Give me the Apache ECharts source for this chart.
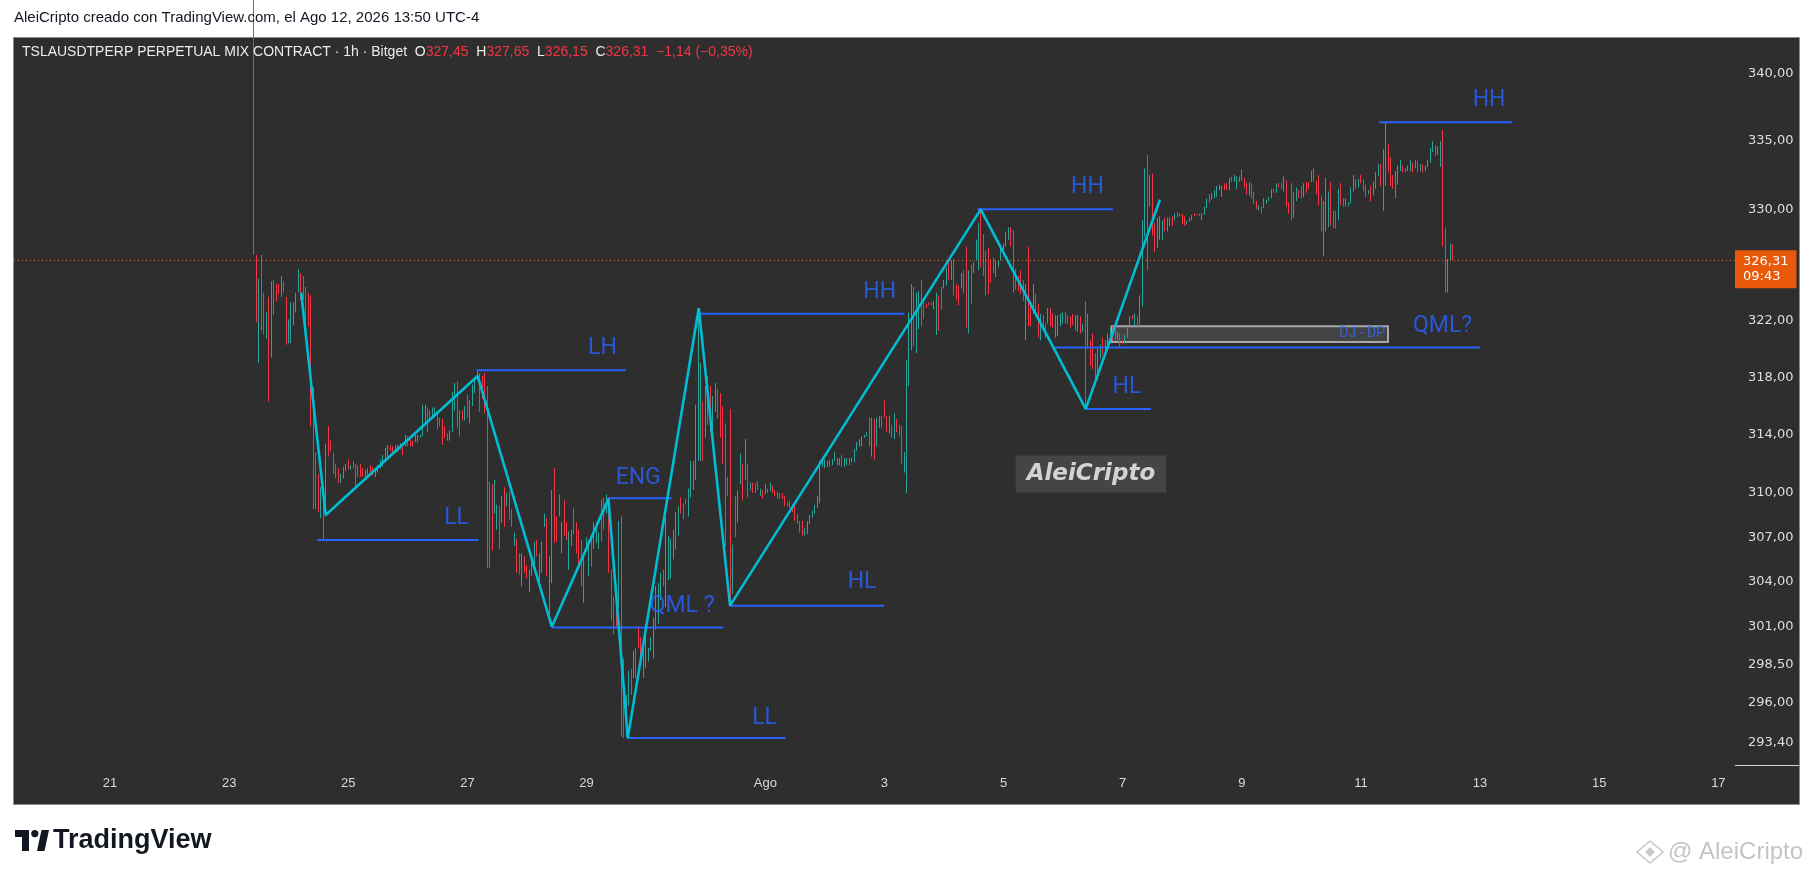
<!DOCTYPE html>
<html><head><meta charset="utf-8">
<script src="https://cdn.jsdelivr.net/npm/echarts@6/dist/echarts.min.js"></script>
<style>html,body{margin:0;padding:0;background:#fff;}#c{width:1814px;height:877px;}</style>
</head><body><div id="c"></div>
<script>
// hours counted from 21 Jul 00:00 (UTC-4); hourly candles start at this hour
const startHour = 58;
const opens = [
348,326.7,319.0,326.7,324.0,320.7,323.7,319.4,324.9,324.6,
324.6,323.7,324.8,323.7,320.4,320.4,321.7,322.6,324.0,325.4,
325.2,324.4,324.0,323.8,317.3,312.8,311.3,308.3,310.2,308.4,
314.6,313.6,312.8,312.0,311.7,310.7,311.0,311.5,312.3,311.6,
312.2,312.0,311.9,312.0,311.7,311.1,311.2,311.9,311.8,311.1,
311.4,311.7,311.8,312.2,312.4,313.3,313.2,313.3,312.8,313.0,
313.2,313.2,313.9,313.8,313.6,313.5,313.5,313.8,313.9,314.8,
315.9,315.7,315.1,315.2,315.5,315.2,315.1,314.6,314.1,313.6,
314.2,315.7,317.7,315.7,315.7,315.0,316.8,314.8,316.0,316.9,
317.8,
318.3,318.1,318.3,317.4,310.8,310.6,308.6,307.5,309.1,308.0,
310.4,309.1,310.1,308.9,306.4,306.9,305.9,303.7,305.7,305.1,
303.3,304.4,304.8,306.8,303.9,304.6,307.7,308.3,301.2,303.9,
311.7,308.4,308.4,305.9,309.5,308.0,304.8,306.4,309.0,308.0,
307.5,306.8,302.6,306.2,304.4,306.8,306.2,306.6,306.2,309.6,
309.7,308.6,309.7,304.8,303.0,303.5,302.3,308.4,298.9,293.8,
295.8,298.2,297.6,299.6,301.0,300.3,297.6,298.3,298.7,299.4,
298.9,300.8,301.2,302.8,304.8,302.3,304.1,304.2,305.5,306.2,
307.1,309.7,309.3,309.6,308.4,309.7,310.2,310.9,312.2,312.2,
316.3,313.8,318.1,317.4,313.8,315.6,317.2,316.9,316.0,314.8,
311.1,315.8,303.2,309.8,308.0,310.6,312.0,310.9,312.0,310.2,
310.7,310.7,310.8,
309.8,310.2,309.9,310.3,310.1,310.5,310.2,310.1,310.0,310.0,
309.8,309.4,309.5,309.2,309.3,308.6,308.1,308.1,307.1,307.2,
307.9,308.3,308.6,309.0,309.3,311.8,311.7,311.8,312.3,311.9,
312.2,311.9,311.9,312.6,311.8,311.9,312.4,312.1,312.1,312.9,
313.2,313.2,313.8,313.9,315.2,312.5,315.1,313.2,314.5,315.3,
316.4,315.3,314.1,314.7,313.7,315.1,314.7,314.6,311.4,310.0,
317.4,319.9,324.4,319.7,321.4,324.9,323.3,323.2,323.3,323.3,
322.8,321.0,323.8,324.4,324.3,324.5,326.4,324.9,326.4,324.6,
324.5,324.3,325.6,327.3,321.1,326.0,325.4,326.3,325.6,330.1,
328.2,327.0,327.2,326.4,326.5,325.1,325.8,326.3,326.9,327.3,
327.8,
328.7,328.5,325.7,325.2,325.6,324.9,320.6,327.3,323.4,322.5,
323.9,323.2,320.6,322.4,321.8,321.8,322.9,322.5,320.8,320.9,
321.6,321.8,322.6,322.4,322.3,322.5,321.3,321.2,322.3,321.2,
323.4,320.0,320.6,321.1,319.7,317.8,319.3,320.8,319.9,320.2,
320.4,321.6,321.5,320.6,321.1,320.6,320.4,320.8,321.6,322.4,
321.6,322.3,321.5,323.0,328.0,334.0,330.2,332.6,329.0,327.2,
327.8,327.8,329.4,328.4,328.8,329.5,329.2,329.8,329.5,329.7,
329.5,328.9,329.1,329.2,329.7,329.7,329.7,329.2,329.6,330.1,
331.1,330.7,330.8,330.9,331.4,
330.9,331.9,331.9,331.4,332.4,332.0,331.5,332.0,332.1,332.3,
331.9,331.0,331.9,331.3,330.6,329.9,330.2,330.1,330.4,330.6,
330.8,331.5,331.2,331.9,331.9,331.3,332.1,330.5,331.9,329.4,
330.6,331.4,331.7,330.9,332.0,332.0,332.0,333.0,332.1,332.5,
331.0,326.6,328.4,328.7,332.0,329.9,329.9,329.2,331.9,330.8,
330.2,330.2,330.4,331.3,332.2,331.6,332.5,332.2,331.8,331.1,
331.7,331.0,331.5,332.4,333.3,329.9,331.7,334.8,333.8,332.5,
330.8,331.8,332.8,333.2,333.0,332.8,332.8,333.4,333.0,333.5,
332.8,333.3,332.8,333.1,333.4,334.2,334.7,334.0,333.1,335.8,
328.7,324.0,326.3,327.45
];
const closes = [
326.7,321.9,325.0,321.3,321.0,322.6,316.3,324.8,322.4,323.4,
323.9,325.2,324.0,320.3,322.1,323.3,323.3,324.0,325.7,323.5,
323.5,321.6,321.6,314.6,308.9,308.9,308.7,310.4,306.8,313.4,
312.5,312.9,311.3,311.0,310.7,311.3,311.8,312.0,311.6,311.9,
311.7,310.5,311.1,311.1,311.1,311.6,311.7,311.3,311.2,311.7,
311.9,312.3,312.6,313.1,313.3,312.9,312.8,312.8,313.3,313.4,
312.6,314.0,313.2,313.2,313.2,314.0,314.0,314.0,316.1,316.1,
314.2,314.9,315.9,315.9,314.4,314.6,313.3,313.8,313.6,314.3,
317.0,317.6,314.5,313.9,315.0,316.0,315.2,316.4,317.5,317.9,
318.5,
315.6,316.5,315.5,304.9,304.9,306.1,310.9,309.2,306.2,309.8,
307.7,310.0,308.2,307.7,307.3,304.6,304.5,305.9,304.6,304.2,
304.8,305.3,306.7,305.7,305.9,306.7,308.6,304.4,305.7,310.2,
306.6,306.7,309.9,308.0,307.1,306.8,307.4,307.5,307.2,305.9,
304.8,303.7,305.7,307.0,306.8,305.0,308.0,308.0,307.3,306.7,
307.5,309.9,304.6,301.4,300.5,301.0,308.1,293.8,293.7,296.5,
298.1,296.5,299.4,297.6,299.6,298.8,300.1,301.2,299.6,300.3,
301.6,303.7,303.9,304.6,303.7,308.4,307.1,306.9,307.5,308.7,
309.1,308.6,308.2,309.2,310.3,312.2,312.2,316.1,322.9,319.0,
312.2,317.4,314.7,314.2,316.7,317.6,315.1,313.8,312.0,306.4,
309.8,302.4,306.5,307.0,310.2,312.7,309.5,313.7,309.7,310.7,
310.0,310.0,310.2,
310.3,309.6,310.6,310.0,310.7,310.0,309.8,309.6,309.6,309.6,
309.1,309.1,309.0,308.7,308.1,307.9,307.3,307.1,307.6,308.1,
308.5,308.8,309.2,309.8,312.2,312.3,312.3,312.2,311.8,312.3,
312.8,312.4,312.4,311.8,312.4,312.4,311.9,312.4,313.0,313.5,
313.7,313.9,314.0,314.2,313.2,315.2,312.3,315.2,315.3,314.5,
315.2,314.2,315.3,313.8,315.5,314.2,313.9,312.0,312.8,319.2,
322.6,324.6,320.2,324.0,324.1,321.6,322.1,322.9,323.1,323.1,
323.4,324.0,321.3,322.8,324.9,325.8,324.9,326.3,323.8,323.5,
323.1,325.4,324.0,321.5,325.6,323.2,326.2,327.8,329.0,325.8,
325.2,323.8,323.9,324.7,325.4,326.3,326.3,327.2,327.5,328.4,
328.7,
327.3,324.0,324.2,324.1,323.9,323.4,324.6,321.6,321.6,324.6,
322.5,320.8,322.5,321.3,320.8,322.9,321.6,321.5,322.4,322.4,
322.5,322.6,321.8,321.8,321.5,321.7,322.4,322.4,321.1,321.8,
315.8,322.5,318.8,318.6,317.6,320.1,320.3,319.6,320.6,321.1,
321.5,320.6,320.6,321.2,320.1,320.3,321.0,321.6,322.3,322.1,
322.5,321.5,323.8,329.2,333.0,325.6,332.5,328.1,326.9,329.4,
329.5,329.2,328.4,329.4,329.4,328.8,329.7,329.4,329.7,328.9,
328.8,329.2,329.4,329.6,329.5,329.6,329.5,329.7,330.2,330.8,
330.5,331.2,331.4,331.7,331.8,
331.7,331.4,331.4,332.3,332.0,332.5,332.4,332.4,332.9,331.6,
331.1,332.0,330.8,330.4,330.0,330.3,329.7,330.8,330.7,330.9,
331.5,331.2,331.9,331.6,331.5,332.4,330.2,329.7,329.2,331.3,
331.6,330.8,330.8,331.9,331.2,331.5,332.8,332.0,331.1,330.3,
328.4,330.6,332.3,331.3,328.8,328.6,328.6,331.5,330.3,330.2,
330.8,330.5,331.6,332.5,331.5,332.2,331.9,331.3,330.9,331.4,
330.6,332.0,332.7,333.3,331.7,334.4,336.4,332.7,331.7,331.5,
332.8,333.2,333.6,332.7,332.7,333.2,333.6,332.7,333.6,332.7,
333.3,332.7,333.2,333.6,334.5,335.0,333.9,334.6,335.0,327.3,
324.0,326.4,327.5,326.31
];
const lastPrice = 326.31;
const countdown = '09:43';
const dayTicks = [0,2,4,6,8,11,13,15,17,19,21,23,25,27];
const dayLabels = ['21','23','25','27','29','Ago','3','5','7','9','11','13','15','17'];
const priceTicks = [340,335,330,322,318,314,310,307,304,301,298.5,296,293.4];
const zigHours = [77.0,86.9,148.1,178.0,200.8,208.6,237.2,249.8,350.8,393.1,423.0];
const zigPrices = [324.0,308.5,318.1,301.0,309.6,293.7,322.9,302.4,330.0,315.8,330.7];
const levelStart = [83.5,147.7,178.0,200.8,208.3,249.4,237.2,349.4,380.7,392.8,511.4];
const levelEnd = [148.4,207.9,247.1,226.3,272.2,311.8,320.0,404.0,552.0,419.3,565.0];
const levelPrice = [306.8,318.5,300.95,309.65,293.7,302.4,322.5,330.0,320.1,315.8,336.4];
const labelTexts = ['LL','LH','ENG','QML ?','LL','HL','HH','HH','HL','QML?','HH'];
const labelHours = [139.6,198.4,212.8,230.5,263.7,303.0,310.1,393.8,409.7,536.9,555.6];
const labelPrices = [308.25,320.05,311.0,302.35,295.0,303.96,323.99,331.6,317.3,321.6,338.0];
const boxHours = [403.5,514.9];
const boxPrices = [321.6,320.5];
const boxText = 'DJ - DP';
const boxTextAt = [513.7,321.1];
const signText = 'AleiCripto';
const signAt = [395.2,311.3];

const ln = Math.log;
const candleData = opens.map((o,i)=>{const c=closes[i];return [startHour+i, ln(o), ln(c), ln(Math.min(o,c)), ln(Math.max(o,c))];});
const fmtPrice = v => Math.exp(v).toFixed(2).replace('.', ',');
const clear = 'rgba(0,0,0,0)';

const series = [{
  type:'candlestick', data:candleData, barWidth:1, clip:true, silent:true,
  itemStyle:{color:'#4caf50', color0:'#f23645', borderColor:'#26a69a', borderColor0:'#f23645', borderWidth:1},
  markLine:{symbol:'none', silent:true, animation:false, precision:10,
    lineStyle:{type:[1,3], color:'#e0692a', width:1},
    label:{position:'end', formatter: lastPrice.toFixed(2).replace('.', ',')+'\n'+countdown, color:'#ffffff', backgroundColor:'#e8590c',
      padding:[4,8,4,8], fontSize:13, lineHeight:15, fontFamily:'DejaVu Sans', distance:0, offset:[0,9]},
    data:[{yAxis: ln(lastPrice)}]}
}];
levelStart.forEach((s,i)=>{
  series.push({type:'line', symbol:'none', silent:true, z:4,
    lineStyle:{color:'#2962ff', width:2},
    data:[[s, ln(levelPrice[i])],[levelEnd[i], ln(levelPrice[i])]]});
});
series.push({type:'line', symbol:'none', silent:true, z:5,
  lineStyle:{color:'#00bcd4', width:2.6},
  data: zigHours.map((h,i)=>[h, ln(zigPrices[i])]),
  markArea:{silent:true, itemStyle:{color:'rgba(85,85,85,0.55)', borderColor:'#a8a8a8', borderWidth:2},
    data:[[{coord:[boxHours[0], ln(boxPrices[0])]},{coord:[boxHours[1], ln(boxPrices[1])]}]]}
});
series.push({type:'scatter', symbolSize:1, silent:true, z:6, itemStyle:{color:clear},
  data: labelHours.map((h,i)=>[h, ln(labelPrices[i]), labelTexts[i]]),
  label:{show:true, position:'inside', formatter:p=>p.data[2], color:'#2962ff', fontSize:23, fontFamily:'Roboto'}
});
series.push({type:'scatter', symbolSize:1, silent:true, z:8, zlevel:0, itemStyle:{color:clear},
  data:[[boxTextAt[0], ln(boxTextAt[1]), boxText]],
  label:{show:true, position:'inside', align:'right', formatter:p=>p.data[2], color:'#2f6bff', fontSize:14, fontFamily:'Roboto'}
});
series.push({type:'scatter', symbolSize:1, silent:true, z:6, itemStyle:{color:clear},
  data:[[signAt[0], ln(signAt[1]), signText]],
  label:{show:true, position:'inside', formatter:p=>p.data[2], color:'#f6f6f6', fontSize:23, fontFamily:'DejaVu Sans',
    fontStyle:'italic', fontWeight:'bold', backgroundColor:'#4b4b4b', padding:[7,11,7,11]}
});

const chart = echarts.init(document.getElementById('c'), null, {renderer:'canvas'});
chart.setOption({
  backgroundColor:'#ffffff',
  animation:false,
  title:[
    {text:'AleiCripto creado con TradingView.com, el Ago 12, 2026 13:50 UTC-4', left:14, top:10, padding:0,
     textStyle:{fontFamily:'Liberation Sans', fontSize:15, fontWeight:'normal', color:'#131722', lineHeight:16}},
    {text:'{w|TSLAUSDTPERP PERPETUAL MIX CONTRACT · 1h · Bitget  O}{r|327,45}{w|  H}{r|327,65}{w|  L}{r|326,15}{w|  C}{r|326,31}{r|  −1,14 (−0,35%)}',
     left:22, top:45, padding:0,
     textStyle:{fontWeight:'normal', rich:{w:{fontFamily:'Liberation Sans', fontSize:14, fontWeight:'normal', color:'#ececec', lineHeight:15},
                      r:{fontFamily:'Liberation Sans', fontSize:14, fontWeight:'normal', color:'#f23645', lineHeight:15}}}}
  ],
  grid:{left:14, right:79, top:38, bottom:111, outerBoundsMode:'none'},
  xAxis:{type:'value', min:-38.7, max:654.7,
    axisLine:{show:false}, axisTick:{show:false}, splitLine:{show:false},
    axisLabel:{customValues: dayTicks.map(d=>d*24), color:'#d8dae0', fontSize:13, fontFamily:'Liberation Sans', margin:11,
      formatter: v => { const i = dayTicks.indexOf(Math.round(v/24)); return i>=0 ? dayLabels[i] : ''; }}},
  yAxis:{type:'value', position:'right', min:ln(291.9), max:ln(342.7), scale:true,
    axisLine:{show:false}, axisTick:{show:false}, splitLine:{show:false},
    axisLabel:{customValues: priceTicks.map(p=>ln(p)), color:'#dcdee4', fontSize:13, fontFamily:'DejaVu Sans', margin:13,
      formatter: fmtPrice}},
  graphic:[
    {type:'rect', z:-100, silent:true, shape:{x:13.5, y:37.5, width:1786, height:767}, style:{fill:'#2e2e2e', stroke:'#8c8c8c', lineWidth:1}},
    {type:'line', silent:true, z:10, shape:{x1:1735, y1:765.5, x2:1799, y2:765.5}, style:{stroke:'#d1d4dc', lineWidth:1}},
    {type:'polygon', silent:true, shape:{points:[[15,830],[29,830],[29,851],[22,851],[22,837],[15,837]]}, style:{fill:'#131722'}},
    {type:'circle', silent:true, shape:{cx:34.8, cy:833.6, r:3.6}, style:{fill:'#131722'}},
    {type:'polygon', silent:true, shape:{points:[[37,851],[44.5,851],[49,830],[41.5,830]]}, style:{fill:'#131722'}},
    {type:'text', silent:true, x:53, y:841, style:{text:'TradingView', fill:'#131722', font:'bold 27px "Liberation Sans"', textVerticalAlign:'middle'}},
    {type:'polygon', silent:true, shape:{points:[[1650,841],[1663,852],[1650,863],[1637,852]]}, style:{fill:'none', stroke:'#c9c9c9', lineWidth:1.6}},
    {type:'polygon', silent:true, shape:{points:[[1650,847],[1655,852],[1650,857],[1645,852]]}, style:{fill:'#c9c9c9'}},
    {type:'text', silent:true, x:1668, y:852, style:{text:'@ AleiCripto', fill:'#c4c4c4', font:'24px "Liberation Sans"', textVerticalAlign:'middle'}}
  ],
  series: series
});
</script>
</body></html>
